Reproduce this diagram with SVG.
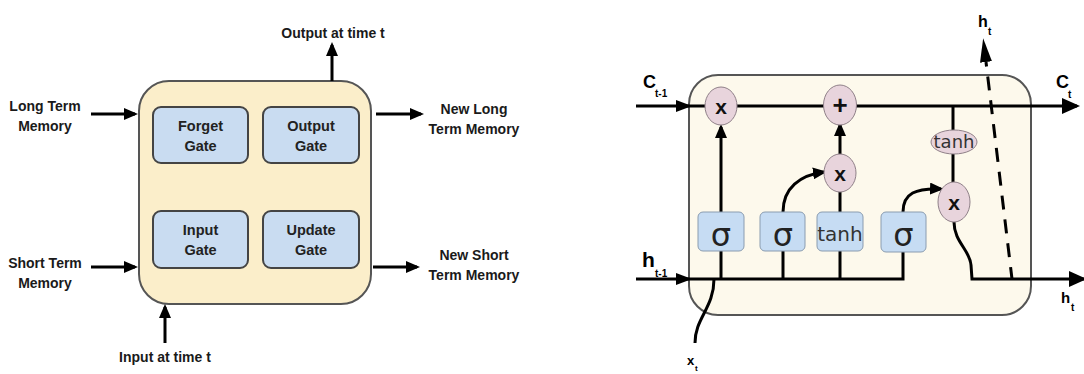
<svg xmlns="http://www.w3.org/2000/svg" width="1084" height="374" viewBox="0 0 1084 374">
<style>
.lbl{font-family:"Liberation Sans",Arial,sans-serif;font-weight:bold;font-size:14px;fill:#1a1a1a;text-anchor:middle}
.gt{font-family:"Liberation Sans",Arial,sans-serif;font-weight:bold;font-size:14.5px;fill:#222;text-anchor:middle}
.cell{fill:#fbeeca;stroke:#555;stroke-width:2}
.gate{fill:#c9dcf1;stroke:#444;stroke-width:2}
.la{stroke:#000;stroke-width:3;fill:none}
.rcell{fill:#fdf9ec;stroke:#555;stroke-width:2}
.rbox{fill:#c6dcf3;stroke:#8a9cb0;stroke-width:1}
.op{fill:#e8d4dc;stroke:#8f8088;stroke-width:1}
.w{stroke:#000;stroke-width:3;fill:none}
.sym{font-family:"Liberation Sans",Arial,sans-serif;font-weight:bold;fill:#111;text-anchor:middle}
.sig{font-family:"DejaVu Sans",sans-serif;font-size:32px;fill:#222;text-anchor:middle}
.th{font-family:"DejaVu Sans",sans-serif;fill:#333;text-anchor:middle}
.rl{font-family:"Liberation Sans",Arial,sans-serif;font-weight:bold;fill:#000}
</style>
<defs>
<marker id="ah" viewBox="0 0 14 12" refX="11" refY="6" markerWidth="14" markerHeight="12" markerUnits="userSpaceOnUse" orient="auto"><path d="M0,0 L14,6 L0,12 z" fill="#000"/></marker>
<marker id="ahs" viewBox="0 0 16 12" refX="13" refY="6" markerWidth="16" markerHeight="12" markerUnits="userSpaceOnUse" orient="auto"><path d="M0,0 L16,6 L0,12 z" fill="#000"/></marker>
<marker id="ahb" viewBox="0 0 18 16" refX="15" refY="8" markerWidth="18" markerHeight="16" markerUnits="userSpaceOnUse" orient="auto"><path d="M0,0 L18,8 L0,16 z" fill="#000"/></marker>
<marker id="ahd" viewBox="0 0 24 12" refX="0" refY="6" markerWidth="24" markerHeight="12" markerUnits="userSpaceOnUse" orient="auto"><path d="M0,0 L24,6 L0,12 z" fill="#000"/></marker>
</defs>

<!-- LEFT DIAGRAM -->
<g id="lstm-cell-block">
<rect class="cell" x="139" y="81" width="232" height="223" rx="30"/>
</g>
<g id="forget-gate">
<rect class="gate" x="153" y="107" width="95" height="56" rx="8"/>
<text class="gt" x="200.5" y="131">Forget</text>
<text class="gt" x="200.5" y="151">Gate</text>
</g>
<g id="output-gate">
<rect class="gate" x="263" y="107" width="96" height="56" rx="8"/>
<text class="gt" x="311" y="131">Output</text>
<text class="gt" x="311" y="151">Gate</text>
</g>
<g id="input-gate">
<rect class="gate" x="153" y="211" width="95" height="57" rx="8"/>
<text class="gt" x="200.5" y="235">Input</text>
<text class="gt" x="200.5" y="255">Gate</text>
</g>
<g id="update-gate">
<rect class="gate" x="263" y="211" width="96" height="57" rx="8"/>
<text class="gt" x="311" y="235">Update</text>
<text class="gt" x="311" y="255">Gate</text>
</g>
<g id="left-labels">
<text class="lbl" x="45" y="111">Long Term</text>
<text class="lbl" x="45" y="131">Memory</text>
<text class="lbl" x="45" y="268">Short Term</text>
<text class="lbl" x="45" y="288">Memory</text>
<text class="lbl" x="474" y="114">New Long</text>
<text class="lbl" x="474" y="134">Term Memory</text>
<text class="lbl" x="474" y="260">New Short</text>
<text class="lbl" x="474" y="280">Term Memory</text>
<text class="lbl" x="333" y="38">Output at time t</text>
<text class="lbl" x="165" y="362">Input at time t</text>
</g>
<g id="left-connectors">
<path class="la" d="M91,114 H135" marker-end="url(#ah)"/>
<path class="la" d="M91,267 H135" marker-end="url(#ah)"/>
<path class="la" d="M376,114 H421" marker-end="url(#ah)"/>
<path class="la" d="M373,267 H417" marker-end="url(#ah)"/>
<path class="la" d="M332,81 V45" marker-end="url(#ah)"/>
<path class="la" d="M165,343 V307" marker-end="url(#ah)"/>
</g>

<!-- RIGHT DIAGRAM -->
<g id="lstm-cell">
<rect class="rcell" x="689" y="75" width="342" height="240" rx="29"/>
</g>
<g id="right-connectors">
<path class="w" d="M636,106 H689" marker-end="url(#ahs)"/>
<path class="w" d="M689,106 H1077" marker-end="url(#ahb)"/>
<path class="w" d="M636,279 H689" marker-end="url(#ahs)"/>
<path class="w" d="M689,279 H903 V251"/>
<path class="w" d="M721,279 V251"/>
<path class="w" d="M721,212 V127" marker-end="url(#ah)"/>
<path class="w" d="M783,279 V251"/>
<path class="w" d="M783,212 C783,188 800,175 824,172" marker-end="url(#ah)"/>
<path class="w" d="M840,279 V251"/>
<path class="w" d="M840,212 V192"/>
<path class="w" d="M840,154 V125" marker-end="url(#ah)"/>
<path class="w" d="M903,212 C903,193 916,188 941,189" marker-end="url(#ah)"/>
<path class="w" d="M953,106 V130"/>
<path class="w" d="M953,154 V182"/>
<path class="w" d="M954,222 C954,242 970,250 971,265 L972,279 H1084" marker-end="url(#ahb)"/>
<path class="w" d="M695,343 C695,318 714,308 714,279"/>
<path class="w" d="M1012,279 L986,62" stroke-dasharray="14 10" stroke-dashoffset="2" marker-end="url(#ahd)"/>
</g>
<g id="forget-mult">
<ellipse class="op" cx="721" cy="106" rx="16" ry="19"/>
<text class="sym" x="721" y="114" font-size="21">x</text>
</g>
<g id="cell-add">
<ellipse class="op" cx="840" cy="105" rx="16.5" ry="20"/>
<text class="sym" x="840" y="114" font-size="26">+</text>
</g>
<g id="input-mult">
<ellipse class="op" cx="840" cy="173" rx="16" ry="19"/>
<text class="sym" x="840" y="181" font-size="21">x</text>
</g>
<g id="cell-tanh">
<ellipse class="op" cx="954" cy="142" rx="23" ry="12"/>
<text class="th" x="954" y="148" font-size="18">tanh</text>
</g>
<g id="output-mult">
<ellipse class="op" cx="954" cy="202" rx="16" ry="20"/>
<text class="sym" x="954" y="210" font-size="21">x</text>
</g>
<g id="sigma-forget">
<rect class="rbox" x="698" y="212" width="46" height="39" rx="5"/>
<text class="sig" x="721" y="246">σ</text>
</g>
<g id="sigma-input">
<rect class="rbox" x="760" y="212" width="45" height="39" rx="5"/>
<text class="sig" x="783" y="246">σ</text>
</g>
<g id="tanh-candidate">
<rect class="rbox" x="817" y="212" width="46" height="39" rx="5"/>
<text class="th" x="840" y="241" font-size="20">tanh</text>
</g>
<g id="sigma-output">
<rect class="rbox" x="881" y="212" width="45" height="40" rx="5"/>
<text class="sig" x="903.5" y="246">σ</text>
</g>
<g id="right-labels">
<text class="rl" x="643" y="88" font-size="18">C</text>
<text class="rl" x="655" y="97" font-size="10">t-1</text>
<text class="rl" x="642" y="267" font-size="21">h</text>
<text class="rl" x="655" y="277" font-size="10">t-1</text>
<text class="rl" x="1056" y="88" font-size="18">C</text>
<text class="rl" x="1068" y="98" font-size="10">t</text>
<text class="rl" x="1061" y="303" font-size="15">h</text>
<text class="rl" x="1071" y="311" font-size="10">t</text>
<text class="rl" x="978" y="27" font-size="16">h</text>
<text class="rl" x="988" y="35" font-size="10">t</text>
<text class="rl" x="687" y="365" font-size="13">x</text>
<text class="rl" x="695" y="371" font-size="8">t</text>
</g>
</svg>
